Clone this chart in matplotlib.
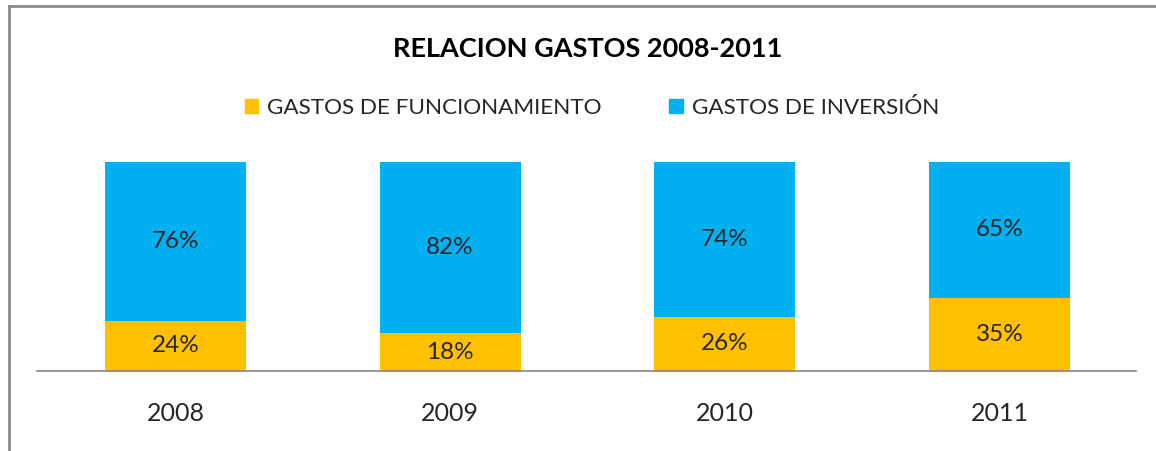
import numpy as np
import matplotlib
matplotlib.use("Agg")
import matplotlib.pyplot as plt
from matplotlib.lines import Line2D
from matplotlib.patches import Patch

plt.rcParams["font.family"] = ["Lato", "DejaVu Sans"]

years = ["2008", "2009", "2010", "2011"]
funcionamiento = [24, 18, 26, 35]
inversion = [76, 82, 74, 65]
series_names = ["GASTOS DE FUNCIONAMIENTO", "GASTOS DE INVERSIÓN"]

YELLOW = "#FFC000"
BLUE = "#00B0F0"
TEXT = "#262626"

fig = plt.figure(figsize=(11.56, 4.51), dpi=100)
ax = fig.add_axes([0.032, 0.1774, 0.9505, 0.4634])

x = np.arange(len(years))
width = 0.513
fun = np.array(funcionamiento) / 100
inv = np.array(inversion) / 100
ax.bar(x, fun, width, color=YELLOW, zorder=2)
ax.bar(x, inv, width, bottom=fun, color=BLUE, zorder=2)

# value labels centred in each segment
for i in range(len(years)):
    ax.text(x[i], fun[i] / 2, f"{funcionamiento[i]}%", ha="center", va="center",
            fontsize=17.5, color=TEXT)
    ax.text(x[i], fun[i] + inv[i] / 2, f"{inversion[i]}%", ha="center", va="center",
            fontsize=17.5, color=TEXT)

ax.set_xlim(-0.504, 3.496)
ax.set_ylim(0, 1)
ax.set_yticks([])
ax.set_xticks(x)
ax.set_xticklabels(years, fontsize=18, color=TEXT)
ax.tick_params(axis="x", length=0, pad=22)
for side in ["left", "right", "top"]:
    ax.spines[side].set_visible(False)
ax.spines["bottom"].set_color("#868686")
ax.spines["bottom"].set_linewidth(1.2)

fig.text(0.508, 0.892, "RELACION GASTOS 2008-2011", ha="center", va="center",
         fontsize=19.5, fontweight="bold", color="black")

handles = [Patch(color=YELLOW), Patch(color=BLUE)]
fig.legend(handles, series_names, loc="center", bbox_to_anchor=(0.512, 0.7605),
           ncol=2, frameon=False, fontsize=16.2, handlelength=0.6, handleheight=0.6,
           handletextpad=0.4, columnspacing=3.0, labelcolor=TEXT)

# chart area border (left and top edges)
fig.add_artist(Line2D([0.0075, 0.0075], [0.0, 0.987], color="#8c8c8c", lw=2))
fig.add_artist(Line2D([0.0075, 1.0], [0.987, 0.987], color="#8c8c8c", lw=2))

fig.savefig("out.png", dpi=100)
